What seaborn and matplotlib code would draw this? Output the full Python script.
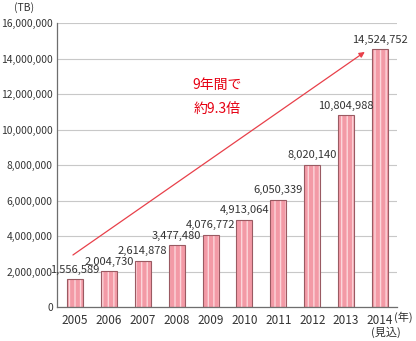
import matplotlib
matplotlib.use("Agg")
import matplotlib.pyplot as plt
from matplotlib.patches import Rectangle
from matplotlib.ticker import FuncFormatter
import seaborn as sns
import pandas as pd

years = ["2005", "2006", "2007", "2008", "2009", "2010", "2011", "2012", "2013", "2014"]
traffic_tb = [1556589, 2004730, 2614878, 3477480, 4076772, 4913064, 6050339, 8020140, 10804988, 14524752]
y_ticks = [0, 2000000, 4000000, 6000000, 8000000, 10000000, 12000000, 14000000, 16000000]
note_lines = ["9年間で", "約9.3倍"]

sns.set_theme(style="white")
plt.rcParams["font.family"] = ["Noto Sans CJK JP", "DejaVu Sans"]
plt.rcParams["hatch.linewidth"] = 1.0

df = pd.DataFrame({"year": years, "tb": traffic_tb})

fig = plt.figure(figsize=(4.16, 3.41), dpi=100)
ax = fig.add_axes([57 / 416, 1 - 307 / 341, (397 - 57) / 416, (307 - 23) / 341])

sns.barplot(data=df, x="year", y="tb", color="#f39aa6", width=0.47, ax=ax, zorder=2)

for p in ax.patches:
    p.set_facecolor("#f39aa6")
    p.set_hatch("|||")
    p.set_edgecolor("#fcd6db")
    p.set_linewidth(0)
for p in list(ax.patches):
    ax.add_patch(Rectangle(p.get_xy(), p.get_width(), p.get_height(), fill=False,
                           edgecolor="#9a5a62", linewidth=0.8, zorder=3))

ax.set_xlim(-0.53, 9.5)
ax.set_ylim(0, 16000000)
ax.set_yticks(y_ticks)
ax.yaxis.set_major_formatter(FuncFormatter(lambda v, _: f"{int(v):,}"))
ax.grid(axis="y", color="#c8c8c8", linewidth=0.8, zorder=0)
ax.set_xlabel("")
ax.set_ylabel("")

for s in ["top", "right"]:
    ax.spines[s].set_visible(False)
for s in ["left", "bottom"]:
    ax.spines[s].set_color("#6e6e6e")
    ax.spines[s].set_linewidth(0.9)
    ax.spines[s].set_zorder(4)

ax.tick_params(axis="y", direction="in", length=4, color="#6e6e6e", width=0.8,
               labelsize=7.4, labelcolor="#333333", pad=3)
ax.tick_params(axis="x", length=0, labelsize=8.5, labelcolor="#333333", pad=5)

for i, v in enumerate(traffic_tb):
    ax.text(i, v + 250000, f"{v:,}", ha="center", va="bottom", fontsize=8,
            color="#333333", zorder=5)

ax.annotate("", xy=(8.55, 14370000), xytext=(-0.06, 2930000),
            arrowprops=dict(arrowstyle="-|>", color="#e8404a", lw=0.9,
                            mutation_scale=8, shrinkA=0, shrinkB=0), zorder=5)
ax.text(4.2, 12500000, note_lines[0], ha="center", va="center", fontsize=10, color="#e60012")
ax.text(4.2, 11150000, note_lines[1], ha="center", va="center", fontsize=10, color="#e60012")

fig.text(24 / 416, 1 - 8 / 341, "(TB)", ha="center", va="center", fontsize=7.5, color="#333333")
fig.text(403 / 416, 1 - 317 / 341, "(年)", ha="center", va="center", fontsize=8, color="#333333")
fig.text(386 / 416, 1 - 332 / 341, "(見込)", ha="center", va="center", fontsize=8, color="#333333")

fig.savefig("out.png", dpi=100)
